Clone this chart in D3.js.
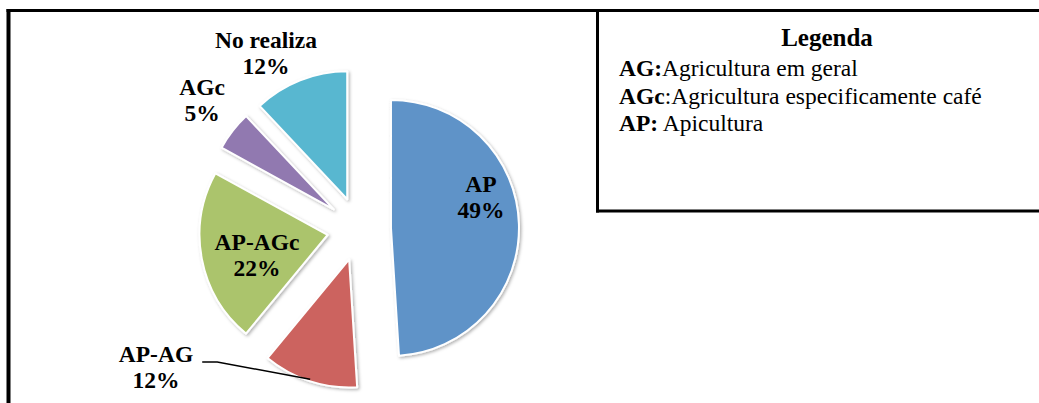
<!DOCTYPE html>
<html>
<head>
<meta charset="utf-8">
<script src="https://cdn.jsdelivr.net/npm/d3@7"></script>
<style>
  body { margin: 0; background: #fff; }
  svg { display: block; }
  text { font-family: "Liberation Serif", "Times New Roman", serif; fill: #000; }
</style>
</head>
<body>
<div id="chart"></div>
<script>
let categories = ['AP', 'AP-AG', 'AP-AGc', 'AGc', 'No realiza']
let values = [49, 12, 22, 5, 12]
let colors = ['#5f93c8', '#cc645e', '#abc46c', '#9179b0', '#59b7d0']

let legendTitle = 'Legenda'
let legendKeys = ['AG:', 'AGc', 'AP:']
let legendTexts = ['Agricultura em geral', ':Agricultura especificamente café', ' Apicultura']

let width = 1039,
  height = 403,
  cx = 359, cy = 229, // pie centre
  radius = 128,
  explode = 32

// label block centres, relative to pie centre
let labelOffsets = [[122, -33], [-203, 137], [-102, 25], [-157, -130], [-93, -177]]

let svg = d3.select('#chart').append('svg')
  .attr('width', width)
  .attr('height', height)

let defs = svg.append('defs')
defs.append('filter')
  .attr('id', 'shadow')
  .attr('x', '-20%').attr('y', '-20%')
  .attr('width', '140%').attr('height', '140%')
  .append('feDropShadow')
  .attr('dx', 1.5).attr('dy', 1.5)
  .attr('stdDeviation', 1.5)
  .attr('flood-color', '#000')
  .attr('flood-opacity', 0.3)

// frames
svg.append('line')
  .attr('x1', 8.5).attr('y1', 9).attr('x2', 8.5).attr('y2', height)
  .attr('stroke', '#000').attr('stroke-width', 4)
svg.append('line')
  .attr('x1', 6.5).attr('y1', 10.5).attr('x2', width).attr('y2', 10.5)
  .attr('stroke', '#000').attr('stroke-width', 3)
svg.append('line')
  .attr('x1', 597.5).attr('y1', 10).attr('x2', 597.5).attr('y2', 212.5)
  .attr('stroke', '#000').attr('stroke-width', 3)
svg.append('line')
  .attr('x1', 596).attr('y1', 211).attr('x2', width).attr('y2', 211)
  .attr('stroke', '#000').attr('stroke-width', 3)

// pie
let pie = d3.pie().sort(null).startAngle(0).endAngle(2 * Math.PI)
let arcs = pie(values)
let arc = d3.arc().innerRadius(0).outerRadius(radius)

function offset(d, dist) {
  let a = (d.startAngle + d.endAngle) / 2
  return [Math.sin(a) * dist, -Math.cos(a) * dist]
}

let g = svg.append('g')
  .attr('transform', 'translate(' + cx + ',' + cy + ')')

g.append('g').selectAll('path')
  .data(arcs)
  .enter().append('path')
  .attr('d', arc)
  .attr('transform', function (d) {
    let o = offset(d, explode)
    return 'translate(' + o[0] + ',' + o[1] + ')'
  })
  .attr('fill', function (d, i) { return colors[i] })
  .attr('stroke', '#fff')
  .attr('stroke-width', 2)
  .attr('stroke-linejoin', 'round')
  .attr('filter', 'url(#shadow)')

// labels
let labels = g.append('g').selectAll('g')
  .data(arcs)
  .enter().append('g')
  .attr('transform', function (d, i) {
    return 'translate(' + labelOffsets[i][0] + ',' + labelOffsets[i][1] + ')'
  })

labels.append('text')
  .attr('class', 'name')
  .attr('text-anchor', 'middle')
  .attr('y', -4)
  .attr('font-size', '23.5px')
  .attr('font-weight', 'bold')
  .text(function (d, i) { return categories[i] })

labels.append('text')
  .attr('text-anchor', 'middle')
  .attr('y', 22)
  .attr('font-size', '23.5px')
  .attr('font-weight', 'bold')
  .text(function (d) { return d.value + '%' })

// leader line for AP-AG
let k = 1
let nameWidth = labels.filter(function (d, i) { return i === k }).select('.name').node().getComputedTextLength()
let lx = labelOffsets[k][0] + nameWidth / 2 + 9,
  ly = labelOffsets[k][1] - 4
let o = offset(arcs[k], explode)
let tip = offset(arcs[k], radius - 2)
g.append('path')
  .attr('d', d3.line()([[lx, ly], [lx + 15, ly], [o[0] + tip[0], o[1] + tip[1]]]))
  .attr('fill', 'none')
  .attr('stroke', '#000')
  .attr('stroke-width', 1.5)

// legend
let legend = svg.append('g')
legend.append('text')
  .attr('x', 827).attr('y', 46)
  .attr('text-anchor', 'middle')
  .attr('font-size', '25px')
  .attr('font-weight', 'bold')
  .text(legendTitle)

let rows = legend.selectAll('.row')
  .data(legendKeys)
  .enter().append('text')
  .attr('class', 'row')
  .attr('x', 619)
  .attr('y', function (d, i) { return 76 + i * 27.5 })
  .attr('font-size', '23.5px')
  .attr('xml:space', 'preserve')
  .style('white-space', 'pre')

rows.append('tspan')
  .attr('font-weight', 'bold')
  .text(function (d) { return d })
rows.append('tspan')
  .text(function (d, i) { return legendTexts[i] })
</script>
</body>
</html>
